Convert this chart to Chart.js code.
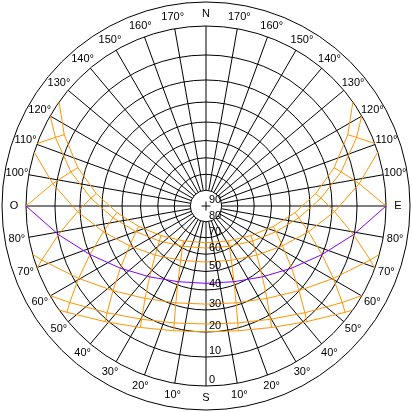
<!DOCTYPE html>
<html>
<head>
<meta charset="utf-8">
<script src="https://cdn.jsdelivr.net/npm/chart.js@4"></script>
<style>
  html, body { margin: 0; padding: 0; background: #fff; }
  canvas { display: block; }
</style>
</head>
<body>
<canvas id="sunChart" width="412" height="412"></canvas>
<script>
// sun positions, one entry per hour from noon outwards (east side)
// altitude in degrees, azimuth in degrees from south
const junAlt = [66.9, 64.0, 56.7, 47.3, 37.2, 26.9, 16.8, 7.2]
const junAz  = [0, 32.8, 56.6, 73.1, 85.8, 96.5, 106.6, 116.7]
const junRise = 125.3

const mayAlt = [63.7, 61.0, 54.1, 45.0, 35.0, 24.7, 14.5, 4.8]
const mayAz  = [0, 30.1, 53.1, 69.8, 82.8, 93.9, 104.2, 114.5]
const mayRise = 120.1

const aprAlt = [55.4, 53.2, 47.1, 38.8, 29.1, 18.9, 8.6]
const aprAz  = [0, 25.0, 46.0, 62.5, 75.9, 87.5, 98.3]
const aprRise = 107.4

const marAlt = [43.5, 41.7, 36.6, 29.1, 20.1, 10.3, 0]
const marAz  = [0, 20.3, 38.5, 54.0, 67.3, 79.0, 90]

const febAlt = [32.8, 31.2, 26.8, 20.1, 11.7, 2.3]
const febAz  = [0, 17.3, 33.4, 47.7, 60.4, 71.8]
const febRise = 74.4

const janAlt = [23.5, 22.1, 18.2, 12.1, 4.3]
const janAz  = [0, 15.2, 29.6, 42.8, 54.7]
const janRise = 60.2

const decAlt = [20.1, 18.8, 15.0, 9.1, 1.6]
const decAz  = [0, 14.5, 28.4, 41.1, 52.6]
const decRise = 54.7

// hour lines that end on the horizon: hours from noon, azimuth where they meet it
const edgeSteps = [5, 7]
const edgeAz = [69.7, 110.3]

// grid
const altRings = [0, 10, 20, 30, 40, 50, 60, 70, 80]
const altLabels = ['0', '10', '20', '30', '40', '50', '60', '70', '80', '90']
const azLabelSteps = [10, 20, 30, 40, 50, 60, 70, 80, 100, 110, 120, 130, 140, 150, 160, 170]

const ORANGE = '#ff9400'
const PURPLE = '#7f00ff'
const FONT = '11px "Liberation Sans", Arial, sans-serif'

function toRad(d){ return d * Math.PI / 180 }

// stereographic projection, horizon radius = 1, south down, east right
function proj(az, alt){
  const r = Math.tan(toRad((90 - alt) / 2))
  return { x: r * Math.sin(toRad(az)), y: -r * Math.cos(toRad(az)) }
}

function dayPath(alts, azs, rise){
  const pts = []
  if (rise != null) pts.push(proj(rise, 0))
  for (let i = alts.length - 1; i > 0; i--) pts.push(proj(azs[i], alts[i]))
  pts.push(proj(0, alts[0]))
  for (let i = 1; i < alts.length; i++) pts.push(proj(-azs[i], alts[i]))
  if (rise != null) pts.push(proj(-rise, 0))
  return pts
}

const curves = [
  [junAlt, junAz], [mayAlt, mayAz], [aprAlt, aprAz], [marAlt, marAz],
  [febAlt, febAz], [janAlt, janAz], [decAlt, decAz]
]

function hourLine(step, side){
  const pts = curves.filter(c => c[0].length > step).map(c => proj(side * c[1][step], c[0][step]))
  const k = edgeSteps.indexOf(step)
  if (k >= 0) pts.push(proj(side * edgeAz[k], 0))
  return pts
}

function line(data, color, order){
  return {
    data: data, showLine: true, borderColor: color, borderWidth: 1,
    pointRadius: 0, tension: 0, fill: false, order: order
  }
}

const datasets = []
for (let step = 1; step <= 7; step++) {
  datasets.push(line(hourLine(step, 1), ORANGE, 3))
  datasets.push(line(hourLine(step, -1), ORANGE, 3))
}
datasets.push(line(dayPath(junAlt, junAz, junRise), ORANGE, 2))
datasets.push(line(dayPath(mayAlt, mayAz, mayRise), ORANGE, 2))
datasets.push(line(dayPath(aprAlt, aprAz, aprRise), ORANGE, 2))
datasets.push(line(dayPath(febAlt, febAz, febRise), ORANGE, 2))
datasets.push(line(dayPath(janAlt, janAz, janRise), ORANGE, 2))
datasets.push(line(dayPath(decAlt, decAz, decRise), ORANGE, 2))
datasets.push(line(dayPath(marAlt, marAz, null), PURPLE, 1))

const HALF = 206 / 180
const RING = 204 / 180
const LABEL_R = 192 / 180

const gridPlugin = {
  id: 'sunGrid',
  beforeDatasetsDraw(chart){
    const { ctx, scales: { x, y } } = chart
    const cx = x.getPixelForValue(0), cy = y.getPixelForValue(0)
    const unit = x.getPixelForValue(1) - cx
    ctx.save()
    ctx.strokeStyle = '#000'
    ctx.lineWidth = 1

    ctx.beginPath()
    ctx.arc(cx, cy, RING * unit, 0, Math.PI * 2)
    ctx.stroke()

    altRings.forEach(a => {
      const r = Math.tan(toRad((90 - a) / 2)) * unit
      ctx.beginPath()
      ctx.arc(cx, cy, r, 0, Math.PI * 2)
      ctx.stroke()
    })

    const r0 = Math.tan(toRad(5)) * unit
    for (let az = 0; az < 360; az += 10) {
      const s = Math.sin(toRad(az)), c = Math.cos(toRad(az))
      ctx.beginPath()
      ctx.moveTo(cx + s * r0, cy + c * r0)
      ctx.lineTo(cx + s * unit, cy + c * unit)
      ctx.stroke()
    }

    // small cross at the zenith
    ctx.beginPath()
    ctx.moveTo(cx - 4.5, cy); ctx.lineTo(cx + 4.5, cy)
    ctx.moveTo(cx, cy - 4.5); ctx.lineTo(cx, cy + 4.5)
    ctx.stroke()
    ctx.restore()
  },
  afterDatasetsDraw(chart){
    const { ctx, scales: { x, y } } = chart
    const cx = x.getPixelForValue(0), cy = y.getPixelForValue(0)
    const unit = x.getPixelForValue(1) - cx
    ctx.save()
    ctx.fillStyle = '#000'
    ctx.font = FONT

    // altitude labels along the south meridian
    ctx.textAlign = 'left'
    ctx.textBaseline = 'middle'
    altLabels.forEach((t, i) => {
      const r = Math.tan(toRad((90 - i * 10) / 2)) * unit
      ctx.fillText(t, cx + 3, cy + r - 6)
    })

    // azimuth labels round the horizon
    ctx.textAlign = 'center'
    const lr = LABEL_R * unit
    azLabelSteps.forEach(a => {
      const s = Math.sin(toRad(a)), c = Math.cos(toRad(a))
      ctx.fillText(a + '°', cx - s * lr, cy + c * lr)
      ctx.fillText(a + '°', cx + s * lr, cy + c * lr)
    })
    ctx.fillText('N', cx, cy - lr)
    ctx.fillText('S', cx, cy + lr)
    ctx.fillText('O', cx - lr, cy)
    ctx.fillText('E', cx + lr, cy)
    ctx.restore()
  }
}

new Chart(document.getElementById('sunChart'), {
  type: 'scatter',
  data: { datasets: datasets },
  options: {
    responsive: false,
    animation: false,
    events: [],
    layout: { padding: 0 },
    plugins: { legend: { display: false }, tooltip: { enabled: false } },
    scales: {
      x: { type: 'linear', min: -HALF, max: HALF, display: false },
      y: { type: 'linear', min: -HALF, max: HALF, display: false }
    }
  },
  plugins: [gridPlugin]
})
</script>
</body>
</html>
